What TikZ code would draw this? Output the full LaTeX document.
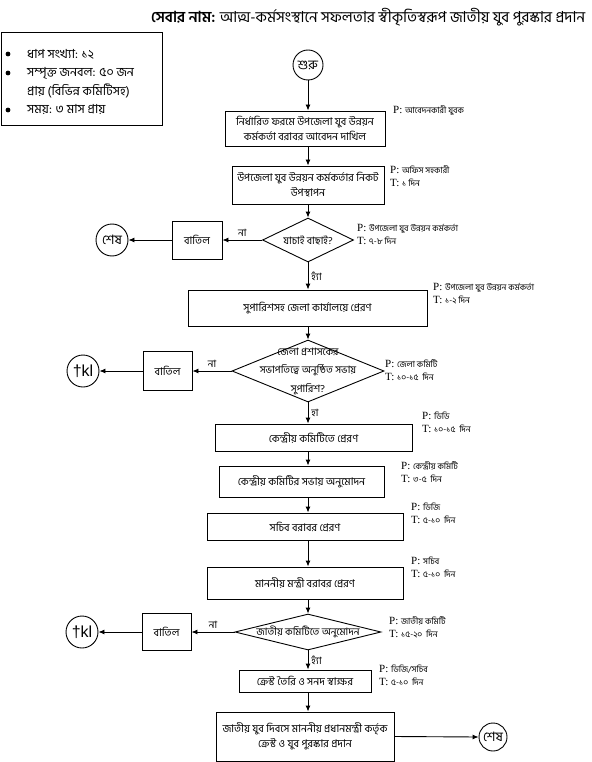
\documentclass[tikz,border=0pt]{standalone}
\usepackage{fontspec}
\setmainfont{Liberation Serif}
\newfontfamily\bnfont[Script=Bengali]{Hind Siliguri}
\newfontfamily\sansfont{Liberation Sans}
\usetikzlibrary{arrows.meta,shapes.geometric,positioning}
\newcommand{\bnsmall}[1]{{\bnfont\fontsize{8.5}{9}\selectfont #1}}

\begin{document}
\begin{tikzpicture}[x=1pt,y=-1pt,
    box/.style={draw,line width=0.9pt,inner sep=2pt,align=center,font=\bnfont\fontsize{10.6}{15}\selectfont},
    decision/.style={draw,diamond,line width=0.9pt,inner sep=0pt},
    dtext/.style={align=center,inner sep=0pt,font=\bnfont\fontsize{10.2}{18.5}\selectfont},
    endpt/.style={draw,circle,line width=0.9pt,inner sep=0pt,minimum size=32,font=\bnfont\fontsize{13}{14}\selectfont},
    info/.style={anchor=west,inner sep=0pt,font=\bnfont\fontsize{12.5}{14}\selectfont},
    note/.style={anchor=north west,align=left,inner sep=0pt,font=\fontsize{11}{13}\selectfont},
    lbl/.style={inner sep=3pt,font=\bnfont\fontsize{10}{11}\selectfont},
    flow/.style={-{Latex[length=6,width=5]},line width=0.9pt}]
  \useasboundingbox (0,0) rectangle (591,762);
  % Title
  \node[anchor=west,inner sep=0pt,font=\bnfont\fontsize{15.2}{17}\selectfont] (title) at (151,17)
    {\textbf{সেবার নাম:} আত্ম-কর্মসংস্থানে সফলতার স্বীকৃতিস্বরূপ জাতীয় যুব পুরস্কার প্রদান};
  % Summary box
  \node[draw,line width=0.9pt,anchor=north west,minimum width=161,minimum height=93] (summary) at (0.5,32) {};
  \foreach \y in {54,73,110}{
    \fill (8,\y) circle (2.4);
  }
  \node[info] (s1) at (27,54) {ধাপ সংখ্যা: ১২};
  \node[info] (s2) at (27,73) {সম্পৃক্ত জনবল: ৫০ জন};
  \node[info] (s3) at (27,91) {প্রায় (বিভিন্ন কমিটিসহ)};
  \node[info] (s4) at (27,110) {সময়: ৩ মাস প্রায়};
  % Main column
  \node[endpt,minimum size=30] (start) at (308,65) {শুরু};
  \node[box,minimum width=160,minimum height=35] (b1) at (305,128.5)
    {নির্ধারিত ফরমে উপজেলা যুব উন্নয়ন\\কর্মকর্তা বরাবর আবেদন দাখিল};
  \node[box,minimum width=152,minimum height=38] (b2) at (308,185)
    {উপজেলা যুব উন্নয়ন কর্মকর্তার নিকট\\উপস্থাপন};
  \node[decision,minimum width=91,minimum height=44,label={[dtext]center:যাচাই বাছাই?}] (d1) at (308,240) {};
  \node[box,minimum width=239,minimum height=36] (b3) at (307.5,308) {সুপারিশসহ জেলা কার্যালয়ে প্রেরণ};
  \node[decision,minimum width=152,minimum height=62,
    label={[dtext]center:{জেলা প্রশাসকের\\সভাপতিত্বে অনুষ্ঠিত সভায়\\সুপারিশ?}}] (d2) at (308,371) {};
  \node[box,minimum width=197,minimum height=27] (b4) at (313.5,437.5) {কেন্দ্রীয় কমিটিতে প্রেরণ};
  \node[box,minimum width=165,minimum height=31] (b5) at (301.5,481.5) {কেন্দ্রীয় কমিটির সভায় অনুমোদন};
  \node[box,minimum width=196,minimum height=27] (b6) at (305,526.5) {সচিব বরাবর প্রেরণ};
  \node[box,minimum width=196,minimum height=32] (b7) at (305,583) {মাননীয় মন্ত্রী বরাবর প্রেরণ};
  \node[decision,minimum width=146,minimum height=36,label={[dtext]center:জাতীয় কমিটিতে অনুমোদন}] (d3) at (308,632) {};
  \node[box,minimum width=132,minimum height=22] (b8) at (305,681) {ক্রেস্ট তৈরি ও সনদ স্বাক্ষর};
  \node[box,minimum width=178,minimum height=49] (b9) at (305,736.5)
    {জাতীয় যুব দিবসে মাননীয় প্রধানমন্ত্রী কর্তৃক\\ক্রেস্ট ও যুব পুরস্কার প্রদান};
  % Rejections
  \node[box,minimum width=50,minimum height=38] (no1) at (197,240) {বাতিল};
  \node[endpt] (end1) at (112,240) {শেষ};
  \node[box,minimum width=49,minimum height=39] (no2) at (167.5,371) {বাতিল};
  \node[endpt,font=\sansfont\fontsize{16}{18}\selectfont] (end2) at (83,371) {†kl};
  \node[box,minimum width=49,minimum height=37] (no3) at (166.5,632) {বাতিল};
  \node[endpt,font=\sansfont\fontsize{16}{18}\selectfont] (end3) at (82,632) {†kl};
  \node[endpt,minimum size=28] (end4) at (493,737) {শেষ};
  % Arrows
  \foreach \a/\b in {start/b1,b1/b2,b2/d1,b3/d2,b4/b5,b5/b6,b6/b7,b7/d3,b8/b9}{
    \draw[flow] (\a.south -| start) -- (\b.north -| start);
  }
  \draw[flow] (d1.south) -- node[lbl,right] {হ্যাঁ} (b3.north -| d1);
  \draw[flow] (d2.south) -- node[lbl,right] {হা} (b4.north -| d2);
  \draw[flow] (d3.south) -- node[lbl,right] {হ্যাঁ} (b8.north -| d3);
  \foreach \d/\n/\e in {d1/no1/end1,d2/no2/end2,d3/no3/end3}{
    \draw[flow] (\d.west) -- node[lbl,above] {না} (\n.east);
    \draw[flow] (\n.west) -- (\e.east);
  }
  \draw[flow] (b9.east) -- (end4.west);
  % Person / time notes
  \node[note] (p1) at (393,105) {P: \bnsmall{আবেদনকারী যুবক}};
  \foreach \i/\x/\y/\p/\t in {2/390/165/অফিস সহকারী/১ দিন,
      3/357/224/উপজেলা যুব উন্নয়ন কর্মকর্তা/৭-৮ দিন,
      4/433/283/উপজেলা যুব উন্নয়ন কর্মকর্তা/১-২ দিন,
      5/385/359/জেলা কমিটি/১০-১৫\ \ দিন,
      6/422/412/ডিডি/১০-১৫\ \ দিন,
      7/401/461/কেন্দ্রীয় কমিটি/৩-৫\ \ দিন,
      8/411/503/ডিজি/৫-১০\ \ দিন,
      9/411/557/সচিব/৫-১০\ \ দিন,
      10/389/616/জাতীয় কমিটি/১৫-২০\ \ দিন,
      11/379/665/{ডিজি/সচিব}/৫-১০\ \ দিন}{
    \node[note] (p\i) at (\x,\y) {P: \bnsmall{\p}\\T: \bnsmall{\t}};
  }
\end{tikzpicture}
\end{document}
